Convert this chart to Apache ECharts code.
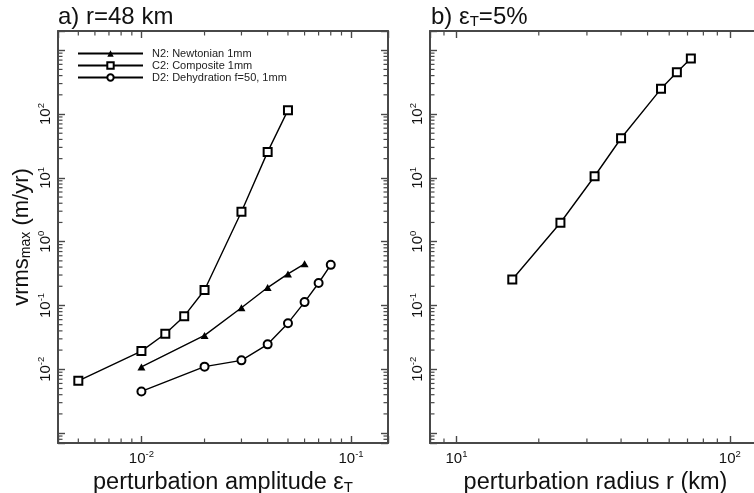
<!DOCTYPE html>
<html><head><meta charset="utf-8">
<script src="https://cdn.jsdelivr.net/npm/echarts@6/dist/echarts.min.js"></script>
<style>html,body{margin:0;padding:0;background:#fff}#c{width:754px;height:493px}</style>
</head><body><div id="c"></div>
<script>
// ---- data ----
const epsN2 = [0.01, 0.02, 0.03, 0.04, 0.05, 0.06];
const vN2   = [0.0109, 0.034, 0.092, 0.191, 0.312, 0.449];
const epsC2 = [0.005, 0.01, 0.013, 0.016, 0.02, 0.03, 0.04, 0.05];
const vC2   = [0.0066, 0.0193, 0.0361, 0.068, 0.175, 2.94, 25.5, 115];
const epsD2 = [0.01, 0.02, 0.03, 0.04, 0.05, 0.06, 0.07, 0.08];
const vD2   = [0.0045, 0.011, 0.0138, 0.0246, 0.0528, 0.113, 0.225, 0.433];
const radius = [16, 24, 32, 40, 56, 64, 72];
const vRad   = [0.255, 1.98, 10.6, 41.7, 248, 453, 741];
const seriesNames = ['N2: Newtonian 1mm', 'C2: Composite 1mm', 'D2: Dehydration f=50, 1mm'];
const yLabelExps = [-2, -1, 0, 1, 2];
const xLabelExpsA = [-2, -1];
const xLabelExpsB = [1, 2];
const yRange = [7e-4, 2000];
const xRangeA = [0.004, 0.15];
const xRangeB = [8, 130];

// ---- styling ----
const FONT = 'Liberation Sans, Arial, sans-serif';
const AX = '#484848';
const NAME_FS = 23.5;

function zip(a, b) { return a.map((v, i) => [v, b[i]]); }
function labelFmt(exps) {
  return function (v) {
    const e = Math.log10(v), r = Math.round(e);
    if (Math.abs(e - r) > 1e-6 || exps.indexOf(r) < 0) return '';
    return '{b|10}{s|' + r + '}';
  };
}
const labelRich = {
  b: { fontSize: 15, fontFamily: FONT, color: '#111', lineHeight: 17, verticalAlign: 'bottom' },
  s: { fontSize: 9.5, fontFamily: FONT, color: '#111', lineHeight: 10, verticalAlign: 'top' }
};
const nameRich = {
  a: { fontSize: NAME_FS, fontFamily: FONT, color: '#111' },
  t: { fontSize: 15, fontFamily: FONT, color: '#111', verticalAlign: 'bottom', lineHeight: 21 }
};
function minorVals(lo, hi) {
  const out = [];
  for (let e = Math.floor(Math.log10(lo)); e <= Math.ceil(Math.log10(hi)); e++)
    for (let m = 2; m <= 9; m++) { const v = m * Math.pow(10, e); if (v > lo && v < hi) out.push(v); }
  return out;
}
function xAxisDef(grid, range, pos, exps, name) {
  const show = pos === 'bottom';
  return {
    type: 'log', gridIndex: grid, position: pos, min: range[0], max: range[1],
    axisLine: { show: true, lineStyle: { color: AX, width: 2 } },
    axisTick: { show: true, inside: true, length: 7, lineStyle: { color: AX, width: 1.4 } },
    splitLine: { show: false }, minorTick: { show: false },
    axisLabel: { show: show, margin: 6, formatter: labelFmt(exps), rich: labelRich, hideOverlap: false },
    name: show ? name : '', nameLocation: 'middle', nameGap: 26,
    nameTextStyle: { fontSize: NAME_FS, fontFamily: FONT, color: '#111', rich: nameRich }
  };
}
function yAxisDef(grid, pos, name) {
  const show = pos === 'left';
  return {
    type: 'log', gridIndex: grid, position: pos, min: yRange[0], max: yRange[1],
    axisLine: { show: true, lineStyle: { color: AX, width: 2 } },
    axisTick: { show: true, inside: true, length: 7, lineStyle: { color: AX, width: 1.4 } },
    splitLine: { show: false }, minorTick: { show: false },
    axisLabel: { show: show, rotate: 90, margin: 5, formatter: labelFmt(yLabelExps), rich: labelRich, hideOverlap: false },
    name: show ? name : '', nameLocation: 'middle', nameGap: 25, nameRotate: 90,
    nameTextStyle: { fontSize: 22, fontFamily: FONT, color: '#111',
      rich: { a: { fontSize: 22, fontFamily: FONT, color: '#111' }, t: { fontSize: 14, fontFamily: FONT, color: '#111', verticalAlign: 'bottom', lineHeight: 20 } } }
  };
}
function minorSeries(xi, yi, vals, dir, ref) {
  return {
    type: 'custom', xAxisIndex: xi, yAxisIndex: yi, silent: true, z: 5, clip: false,
    encode: { x: 0, y: 1 }, legendHoverLink: false, tooltip: { show: false },
    data: vals.map(v => dir === 'x' ? [v, ref] : [ref, v]),
    renderItem: function (params, api) {
      const cs = params.coordSys; const p = api.coord([api.value(0), api.value(1)]);
      const L = 4.5; const st = { stroke: AX, lineWidth: 1.2 };
      if (dir === 'x') {
        const x = p[0];
        return { type: 'group', children: [
          { type: 'line', shape: { x1: x, y1: cs.y + cs.height, x2: x, y2: cs.y + cs.height - L }, style: st },
          { type: 'line', shape: { x1: x, y1: cs.y, x2: x, y2: cs.y + L }, style: st } ] };
      }
      const y = p[1];
      return { type: 'group', children: [
        { type: 'line', shape: { x1: cs.x, y1: y, x2: cs.x + L, y2: y }, style: st },
        { type: 'line', shape: { x1: cs.x + cs.width, y1: y, x2: cs.x + cs.width - L, y2: y }, style: st } ] };
    }
  };
}
const lineStyle = { color: '#000', width: 1.4 };
const titleRich = {
  a: { fontSize: 24, fontFamily: FONT, color: '#111' },
  t: { fontSize: 15, fontFamily: FONT, color: '#111', verticalAlign: 'bottom', lineHeight: 22 }
};
const option = {
  backgroundColor: '#fff',
  animation: false,
  title: [
    { text: 'a) r=48 km', left: 53, top: 0, textStyle: { fontSize: 24, fontWeight: 'normal', fontFamily: FONT, color: '#111' } },
    { text: '{a|b) ε}{t|T}{a|=5%}', left: 426, top: 0,
      textStyle: { fontSize: 24, fontWeight: 'normal', fontFamily: FONT, color: '#111', rich: titleRich } }
  ],
  legend: {
    orient: 'vertical', left: 77, top: 48, padding: 0, itemWidth: 65, itemHeight: 8, itemGap: 1,
    textStyle: { fontSize: 11, fontFamily: FONT, color: '#222', padding: [0, 0, 0, 4] },
    data: seriesNames
  },
  grid: [
    { left: 58, top: 31, width: 330, height: 412, outerBoundsMode: 'none', containLabel: false },
    { left: 430, top: 31, width: 331, height: 412, outerBoundsMode: 'none', containLabel: false }
  ],
  xAxis: [
    xAxisDef(0, xRangeA, 'bottom', xLabelExpsA, '{a|perturbation amplitude ε}{t|T}'),
    xAxisDef(0, xRangeA, 'top', xLabelExpsA, ''),
    xAxisDef(1, xRangeB, 'bottom', xLabelExpsB, '{a|perturbation radius r (km)}'),
    xAxisDef(1, xRangeB, 'top', xLabelExpsB, '')
  ],
  yAxis: [
    yAxisDef(0, 'left', '{a|vrms}{t|max}{a| (m/yr)}'),
    yAxisDef(0, 'right', ''),
    yAxisDef(1, 'left', ''),
    yAxisDef(1, 'right', '')
  ],
  series: [
    { name: seriesNames[0], type: 'line', xAxisIndex: 0, yAxisIndex: 0, data: zip(epsN2, vN2),
      symbol: 'triangle', symbolSize: [8, 7], lineStyle: lineStyle, itemStyle: { color: '#000' }, z: 10 },
    { name: seriesNames[1], type: 'line', xAxisIndex: 0, yAxisIndex: 0, data: zip(epsC2, vC2),
      symbol: 'emptyRect', symbolSize: 8, lineStyle: lineStyle, itemStyle: { color: '#000', borderWidth: 1.3 }, z: 10 },
    { name: seriesNames[2], type: 'line', xAxisIndex: 0, yAxisIndex: 0, data: zip(epsD2, vD2),
      symbol: 'emptyCircle', symbolSize: 8, lineStyle: lineStyle, itemStyle: { color: '#000', borderWidth: 1.3 }, z: 10 },
    { name: 'radius', type: 'line', xAxisIndex: 2, yAxisIndex: 2, data: zip(radius, vRad),
      symbol: 'emptyRect', symbolSize: 8, lineStyle: lineStyle, itemStyle: { color: '#000', borderWidth: 1.3 }, z: 10 },
    minorSeries(0, 0, minorVals(xRangeA[0], xRangeA[1]), 'x', 1),
    minorSeries(0, 0, minorVals(yRange[0], yRange[1]), 'y', 0.02),
    minorSeries(2, 2, minorVals(xRangeB[0], xRangeB[1]), 'x', 1),
    minorSeries(2, 2, minorVals(yRange[0], yRange[1]), 'y', 20)
  ]
};
const chart = echarts.init(document.getElementById('c'), null, { renderer: 'canvas' });
chart.setOption(option);
</script></body></html>
